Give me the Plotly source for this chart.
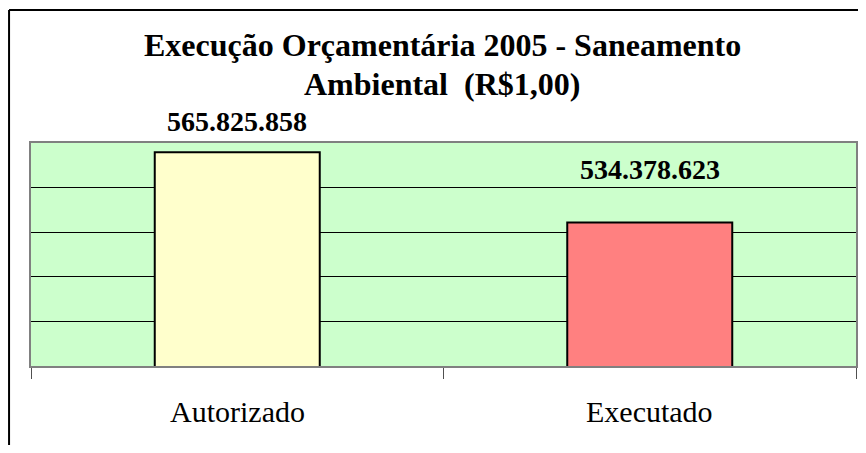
import plotly.graph_objects as go

categories = ["Autorizado", "Executado"]
values = [565825858, 534378623]
value_labels = ["565.825.858", "534.378.623"]
bar_colors = ["#FFFFCC", "#FF8080"]
title_lines = ["Execução Orçamentária 2005 - Saneamento", "Ambiental\u00a0\u00a0(R$1,00)"]

# page has an 8px body margin; figure is laid out so page coords match the reference
OFF = 8
W, H = 850, 437
L, R, T, B = 23, 0, 135, 79
PH = H - T - B
PW = W - L - R

def py(p):
    # page pixel y -> paper y
    return (H - B - (p - OFF)) / PH

def px(p):
    # page pixel x -> paper x
    return (p - OFF - L) / PW

serif = "Times New Roman, Liberation Serif, Tinos, DejaVu Serif, serif"

fig = go.Figure()
fig.add_trace(go.Bar(
    x=categories, y=values, width=0.4,
    marker=dict(color=bar_colors, line=dict(color="black", width=2)),
    hoverinfo="skip",
))

annotations = []
for i, line in enumerate(title_lines):
    annotations.append(dict(text="<b>%s</b>" % line, xref="paper", yref="paper",
                            x=px(443), y=py([45, 84][i]), xanchor="center", yanchor="middle",
                            showarrow=False, font=dict(family=serif, size=32, color="black")))
label_shift = [21, 43]
for c, v, t, s in zip(categories, values, value_labels, label_shift):
    annotations.append(dict(text="<b>%s</b>" % t, x=c, y=v, yref="y", xref="x",
                            xanchor="center", yanchor="bottom", yshift=s - 8, showarrow=False,
                            font=dict(family=serif, size=28, color="black")))
for c in categories:
    annotations.append(dict(text=c, x=c, xref="x", yref="paper", y=py(411),
                            xanchor="center", yanchor="middle", showarrow=False,
                            font=dict(family=serif, size=30, color="black")))

shapes = [
    dict(type="line", xref="paper", yref="paper", x0=px(9), x1=px(9), y0=py(10), y1=py(H + 20),
         line=dict(color="black", width=2)),
    dict(type="line", xref="paper", yref="paper", x0=px(9), x1=px(900), y0=py(10), y1=py(10),
         line=dict(color="black", width=2)),
]

fig.update_layout(
    width=W, height=H,
    margin=dict(l=L, r=R, t=T, b=B, pad=0),
    paper_bgcolor="white",
    plot_bgcolor="#CCFFCC",
    showlegend=False,
    annotations=annotations,
    shapes=shapes,
    font=dict(family=serif),
)
fig.update_xaxes(
    showticklabels=False, ticks="outside", tickson="boundaries", ticklen=11,
    tickcolor="#505050", tickwidth=1,
    showline=True, linecolor="#808080", linewidth=2, mirror=True,
    showgrid=False,
)
fig.update_yaxes(
    range=[470e6, 570e6], dtick=20e6, tick0=470e6,
    showticklabels=False, ticks="",
    showgrid=True, gridcolor="black", gridwidth=1,
    zeroline=False,
    showline=True, linecolor="#808080", linewidth=2, mirror=True,
)

fig.write_html("out.html")
